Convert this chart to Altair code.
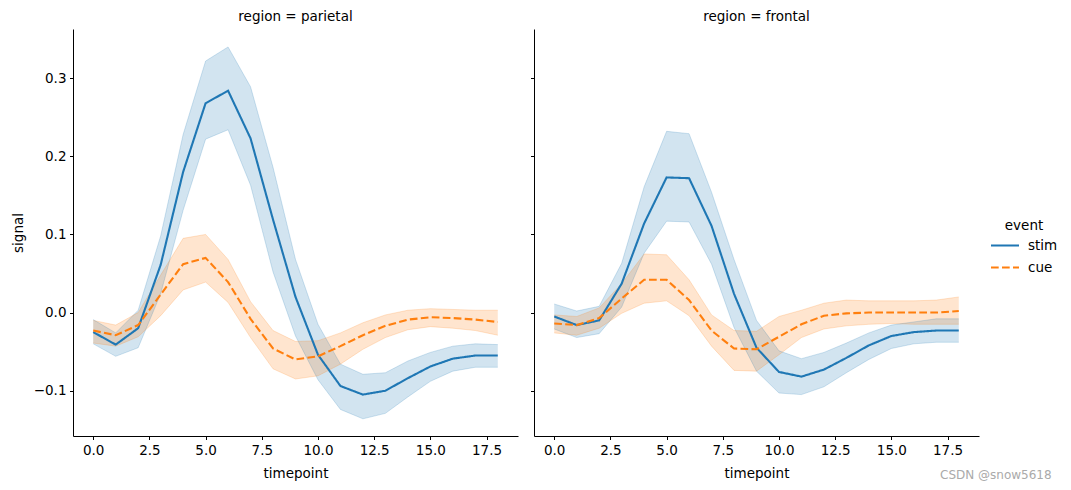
import altair as alt
import pandas as pd

timepoints = list(range(19))

# parietal
par_stim_mean = [-0.025, -0.041, -0.020, 0.061, 0.180, 0.268, 0.284, 0.223, 0.119, 0.020, -0.054, -0.094, -0.105, -0.100, -0.084, -0.069, -0.059, -0.055, -0.055]
par_stim_hi = [-0.009, -0.026, 0.003, 0.098, 0.228, 0.322, 0.340, 0.289, 0.186, 0.068, -0.015, -0.066, -0.079, -0.077, -0.062, -0.051, -0.043, -0.040, -0.041]
par_stim_lo = [-0.040, -0.056, -0.045, 0.024, 0.131, 0.222, 0.234, 0.163, 0.052, -0.030, -0.086, -0.124, -0.136, -0.129, -0.108, -0.088, -0.075, -0.070, -0.070]
par_cue_mean = [-0.023, -0.029, -0.016, 0.023, 0.062, 0.070, 0.039, -0.008, -0.046, -0.060, -0.056, -0.043, -0.029, -0.017, -0.009, -0.006, -0.007, -0.009, -0.012]
par_cue_hi = [-0.010, -0.016, 0.000, 0.048, 0.095, 0.100, 0.068, 0.014, -0.023, -0.037, -0.036, -0.026, -0.013, -0.003, 0.003, 0.005, 0.004, 0.003, 0.003]
par_cue_lo = [-0.039, -0.043, -0.031, -0.004, 0.029, 0.039, 0.013, -0.032, -0.072, -0.085, -0.081, -0.066, -0.047, -0.032, -0.022, -0.018, -0.020, -0.023, -0.029]

# frontal
fro_stim_mean = [-0.005, -0.016, -0.010, 0.037, 0.114, 0.173, 0.172, 0.111, 0.024, -0.045, -0.076, -0.082, -0.073, -0.058, -0.042, -0.030, -0.025, -0.023, -0.023]
fro_stim_hi = [0.011, 0.002, 0.008, 0.063, 0.161, 0.232, 0.229, 0.154, 0.068, -0.010, -0.049, -0.059, -0.051, -0.039, -0.026, -0.016, -0.012, -0.008, -0.008]
fro_stim_lo = [-0.021, -0.032, -0.027, 0.007, 0.076, 0.117, 0.116, 0.062, -0.019, -0.075, -0.103, -0.105, -0.095, -0.077, -0.060, -0.046, -0.040, -0.038, -0.038]
fro_cue_mean = [-0.014, -0.016, -0.007, 0.018, 0.042, 0.042, 0.016, -0.023, -0.046, -0.047, -0.031, -0.015, -0.004, -0.001, 0.000, 0.000, 0.000, 0.000, 0.002]
fro_cue_hi = [-0.003, -0.005, 0.006, 0.037, 0.075, 0.074, 0.042, -0.003, -0.023, -0.024, -0.005, 0.003, 0.012, 0.016, 0.015, 0.015, 0.015, 0.016, 0.020]
fro_cue_lo = [-0.026, -0.029, -0.020, -0.001, 0.012, 0.015, -0.004, -0.043, -0.074, -0.075, -0.054, -0.032, -0.021, -0.017, -0.015, -0.014, -0.015, -0.015, -0.015]

events = ["stim", "cue"]
colors = ["#1f77b4", "#ff7f0e"]
x_ticks = [0.0, 2.5, 5.0, 7.5, 10.0, 12.5, 15.0, 17.5]
y_ticks = [-0.1, 0.0, 0.1, 0.2, 0.3]

series = {
    "parietal": {"stim": (par_stim_mean, par_stim_lo, par_stim_hi),
                 "cue": (par_cue_mean, par_cue_lo, par_cue_hi)},
    "frontal": {"stim": (fro_stim_mean, fro_stim_lo, fro_stim_hi),
                "cue": (fro_cue_mean, fro_cue_lo, fro_cue_hi)},
}

rows = []
for region, evs in series.items():
    for ev, (m, lo, hi) in evs.items():
        for t, a, b, c in zip(timepoints, m, lo, hi):
            rows.append({"region": region, "event": ev, "timepoint": t,
                         "signal": a, "lo": b, "hi": c})
df = pd.DataFrame(rows)

FONT = "DejaVu Sans"
FS = 13.5

xscale = alt.Scale(domain=[-0.9, 18.9], nice=False, zero=False)
yscale = alt.Scale(domain=[-0.158, 0.363], nice=False, zero=False)
cscale = alt.Scale(domain=events, range=colors)
dscale = alt.Scale(domain=events, range=[[1, 0], [7.7, 3.3]])


def leg():
    return alt.Legend(title="event", orient="none", legendX=917, legendY=190)


def panel(region, show_labels):
    d = df[df.region == region]
    base = alt.Chart(d)
    xax = alt.Axis(values=x_ticks, format=".1f", title="timepoint")
    if show_labels:
        yax = alt.Axis(values=y_ticks, format=".1f", title="signal")
    else:
        yax = alt.Axis(values=y_ticks, format=".1f", labels=False, title=None)
    band = base.mark_area(opacity=0.2).encode(
        x=alt.X("timepoint:Q", scale=xscale, axis=xax),
        y=alt.Y("lo:Q", scale=yscale, axis=yax),
        y2="hi:Q",
        color=alt.Color("event:N", scale=cscale, legend=leg()),
        detail="event:N",
    )
    edges = [
        base.mark_line(strokeWidth=1, strokeOpacity=0.2).encode(
            x=alt.X("timepoint:Q", scale=xscale),
            y=alt.Y(f"{f}:Q", scale=yscale),
            color=alt.Color("event:N", scale=cscale, legend=leg()),
        )
        for f in ("lo", "hi")
    ]
    line = base.mark_line(strokeWidth=2.1).encode(
        x=alt.X("timepoint:Q", scale=xscale),
        y=alt.Y("signal:Q", scale=yscale),
        color=alt.Color("event:N", scale=cscale, legend=leg()),
        strokeDash=alt.StrokeDash("event:N", scale=dscale, legend=leg()),
    )
    layers = [band] + edges + [line]
    if not show_labels:
        wm = alt.Chart(pd.DataFrame({"t": ["CSDN @snow5618"]})).mark_text(
            align="left", baseline="middle", color="#aaaaaa", fontSize=12, font=FONT
        ).encode(x=alt.value(406), y=alt.value(446), text="t:N")
        layers.append(wm)
    return alt.layer(*layers).properties(
        width=445, height=407,
        title=alt.TitleParams(f"region = {region}", fontSize=FS, font=FONT,
                              fontWeight="normal", anchor="middle", offset=6),
    )


chart = alt.hconcat(panel("parietal", True), panel("frontal", False), spacing=12).properties(
    padding={"left": 3, "top": 1, "right": 5, "bottom": 5}
).configure_view(stroke=None).configure_axis(
    grid=False, domainColor="black", tickColor="black", tickSize=3.5,
    labelFont=FONT, titleFont=FONT, labelFontSize=FS, titleFontSize=FS,
    titleFontWeight="normal", labelColor="black", titleColor="black",
    labelPadding=3.5, domainWidth=1, tickWidth=1,
).configure_axisX(titlePadding=10).configure_axisY(titlePadding=8).configure_legend(
    titleFont=FONT, labelFont=FONT, titleFontSize=FS, labelFontSize=FS,
    titleFontWeight="normal", titleColor="black", labelColor="black",
    symbolType="stroke", symbolSize=784, symbolStrokeWidth=2, symbolOpacity=1,
    titleAnchor="middle", rowPadding=-11, titlePadding=-2, padding=0, labelOffset=8,
)

chart.save("out.html", embed_options={"renderer": "svg", "actions": False})
